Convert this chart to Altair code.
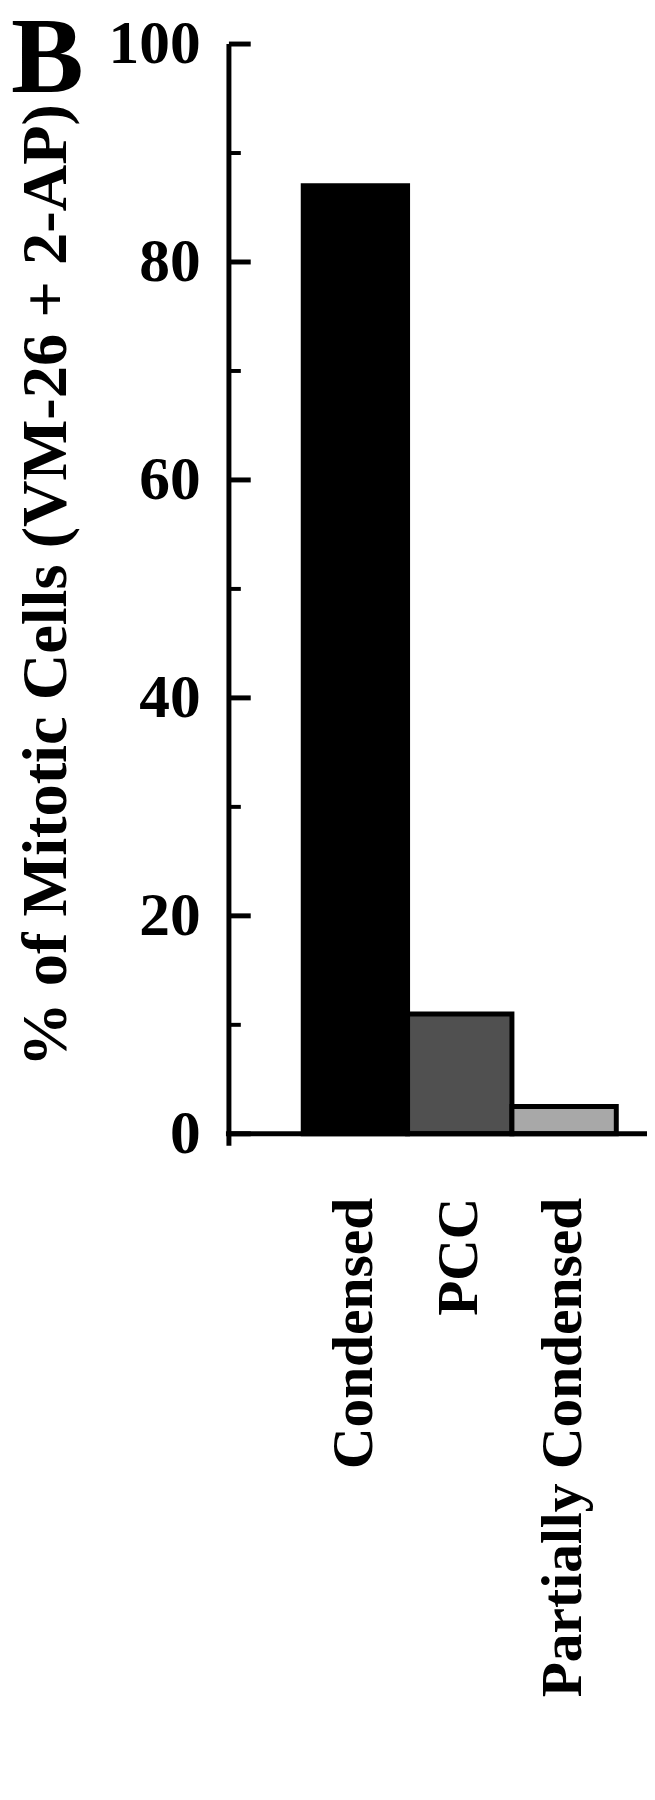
import altair as alt
import pandas as pd

categories = ["Condensed", "PCC", "Partially Condensed"]
values = [87, 11, 2.5]
major_ticks = [0, 20, 40, 60, 80, 100]
minor_ticks = [10, 30, 50, 70, 90]
y_title = "% of Mitotic Cells (VM-26 + 2-AP)"
panel = ["B"]

FONT = "Liberation Serif"

bars_df = pd.DataFrame({"category": categories, "value": values})
major_df = pd.DataFrame({"t": major_ticks})
minor_df = pd.DataFrame({"t": minor_ticks})
panel_df = pd.DataFrame({"p": panel})

yscale = alt.Scale(domain=[0, 100], nice=False, zero=True)

bars = alt.Chart(bars_df).mark_bar(stroke="black", strokeWidth=5).encode(
    x=alt.X("category:N", sort=categories,
            scale=alt.Scale(range=[75, 391], paddingInner=0, paddingOuter=0),
            axis=alt.Axis(title=None, labelAngle=270, labelFont=FONT, labelFontWeight="bold",
                          labelFontSize=58, labelColor="black", labelPadding=64,
                          domain=False, ticks=False, tickSize=0, labelLimit=1000)),
    y=alt.Y("value:Q", scale=yscale,
            axis=alt.Axis(title=y_title, values=major_ticks, format="d",
                          labelFont=FONT, labelFontWeight="bold", labelFontSize=62,
                          labelColor="black", labelPadding=29, domain=False, ticks=False,
                          tickSize=0, grid=False,
                          titleFont=FONT, titleFontWeight="bold", titleFontSize=65,
                          titleColor="black", titlePadding=29, titleY=546)),
    color=alt.Color("category:N", sort=categories, legend=None,
                    scale=alt.Scale(domain=categories, range=["#000000", "#505050", "#a8a8a8"])),
)

yaxis_line = alt.Chart(panel_df).mark_rule(color="black", strokeWidth=5).encode(
    x=alt.value(0), y=alt.datum(100, scale=yscale), y2=alt.datum(-1.1)
)
xaxis_line = alt.Chart(panel_df).mark_rule(color="black", strokeWidth=5).encode(
    x=alt.value(-3), x2=alt.value(422), y=alt.datum(0, scale=yscale)
)
major = alt.Chart(major_df).mark_rule(color="black", strokeWidth=5).encode(
    x=alt.value(0), x2=alt.value(22), y=alt.Y("t:Q", scale=yscale)
)
minor = alt.Chart(minor_df).mark_rule(color="black", strokeWidth=4).encode(
    x=alt.value(0), x2=alt.value(12), y=alt.Y("t:Q", scale=yscale)
)
letter = alt.Chart(panel_df).mark_text(
    font=FONT, fontWeight="bold", fontSize=110, align="left", baseline="alphabetic", color="black"
).encode(text="p:N", x=alt.value(-220), y=alt.value(48))

chart = alt.layer(bars, yaxis_line, xaxis_line, major, minor, letter).properties(
    width=422, height=1100,
    autosize=alt.AutoSizeParams(type="none"),
    padding={"left": 223, "top": 28, "right": 0, "bottom": 655},
).configure_view(stroke=None)

chart.save("out.html", embed_options={"renderer": "svg", "actions": False})
